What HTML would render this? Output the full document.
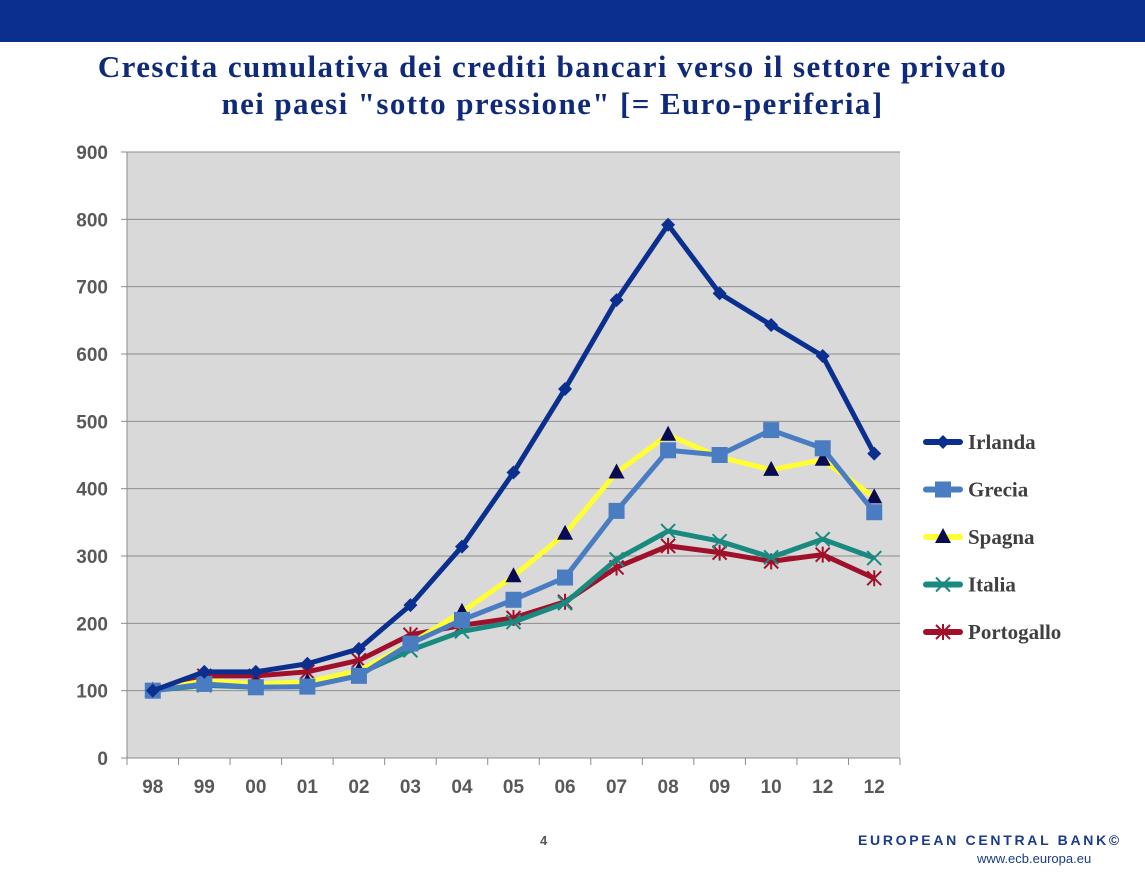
<!DOCTYPE html>
<html><head><meta charset="utf-8"><style>
body{margin:0;width:1145px;height:881px;background:#fff;overflow:hidden;font-family:"Liberation Sans",sans-serif;position:relative}
#bar{position:absolute;left:0;top:0;width:1145px;height:42px;background:#0b2f8f}
#title{position:absolute;left:0;top:48px;width:1105px;text-align:center;font-family:"Liberation Serif",serif;font-weight:bold;font-size:31px;letter-spacing:1.4px;line-height:37px;color:#102a7a}
#page{position:absolute;left:540px;top:833px;font-size:13px;font-weight:bold;color:#555}
#ecb{position:absolute;left:858px;top:832px;font-size:14px;font-weight:bold;letter-spacing:2.7px;color:#1a3a8a}
#url{position:absolute;left:977px;top:851px;font-size:13px;color:#1a3a8a}
</style></head><body>
<div id="bar"></div>
<div id="title">Crescita cumulativa dei crediti bancari verso il settore privato<br>nei paesi "sotto pressione" [= Euro-periferia]</div>
<svg id="chart" width="1145" height="881" style="position:absolute;left:0;top:0"></svg>
<div id="page">4</div>
<div id="ecb">EUROPEAN CENTRAL BANK©</div>
<div id="url">www.ecb.europa.eu</div>
<script>
const categories=["98","99","00","01","02","03","04","05","06","07","08","09","10","12","12"];
const yTicks=[0,100,200,300,400,500,600,700,800,900];
const irlanda=[100,128,128,140,162,227,314,424,548,680,792,690,643,597,452];
const grecia=[100,110,105,106,122,170,205,235,268,367,457,450,487,460,365];
const spagna=[100,115,110,113,130,170,217,270,333,424,480,447,428,443,387];
const italia=[100,108,105,108,125,160,188,202,230,295,337,322,298,325,297];
const portogallo=[100,122,122,128,145,183,197,208,232,283,315,305,292,302,267];
const seriesNames=["Irlanda","Grecia","Spagna","Italia","Portogallo"];
const NS="http://www.w3.org/2000/svg";
const svg=document.getElementById('chart');
const L=127,R=900,T=152,B=758,maxY=900;
const bw=(R-L)/categories.length;
const x=i=>L+bw*(i+0.5);
const y=v=>B-(v/maxY)*(B-T);
function el(t,a,p){const e=document.createElementNS(NS,t);for(const k in a)e.setAttribute(k,a[k]);(p||svg).appendChild(e);return e;}
const bg=el('rect',{x:L,y:T,width:R-L,height:B-T,fill:'#d9d9d9'});


yTicks.forEach(t=>{
 const g=el('line',{x1:L,x2:R,y1:y(t),y2:y(t),stroke:'#8c8c8c','stroke-width':1});
 
 
 const tx=el('text',{x:L-19,y:y(t)+7,'text-anchor':'end','font-size':19,'font-weight':'bold',fill:'#595959'});
 tx.textContent=t;
 
 
 el('line',{x1:L-6,x2:L,y1:y(t),y2:y(t),stroke:'#8c8c8c'});
});
el('line',{x1:L,x2:L,y1:T,y2:B,stroke:'#8c8c8c'});
categories.forEach((c,i)=>{
 el('line',{x1:L+bw*i,x2:L+bw*i,y1:B,y2:B+7,stroke:'#8c8c8c'});
 const tx=el('text',{x:x(i),y:B+35,'text-anchor':'middle','font-size':19,'font-weight':'bold',fill:'#595959'});
 tx.textContent=c;
 
 
});
el('line',{x1:R,x2:R,y1:B,y2:B+7,stroke:'#8c8c8c'});
function marker(type,cx,cy,g){
 if(type==='diamond')el('polygon',{points:`${cx},${cy-7} ${cx+7},${cy} ${cx},${cy+7} ${cx-7},${cy}`,fill:'#0b2f8f'},g);
 else if(type==='square')el('rect',{x:cx-8,y:cy-8,width:16,height:16,fill:'#4a7cc2'},g);
 else if(type==='tri')el('polygon',{points:`${cx},${cy-9} ${cx+8},${cy+6} ${cx-8},${cy+6}`,fill:'#0a0a50'},g);
 else if(type==='x'){el('path',{d:`M${cx-7} ${cy-7}L${cx+7} ${cy+7}M${cx+7} ${cy-7}L${cx-7} ${cy+7}`,stroke:'#1a8a80','stroke-width':2},g);}
 else {el('path',{d:`M${cx-7} ${cy-7}L${cx+7} ${cy+7}M${cx+7} ${cy-7}L${cx-7} ${cy+7}M${cx} ${cy-8}L${cx} ${cy+8}`,stroke:'#a0102a','stroke-width':2},g);}
}
const defs=[[portogallo,'#a0102a','star'],[italia,'#1a8a80','x'],[spagna,'#ffff33','tri'],[grecia,'#4a7cc2','square'],[irlanda,'#0b2f8f','diamond']];
const names=['series-portogallo','series-italia','series-spagna','series-grecia','series-irlanda'];
defs.forEach((d,k)=>{
 const g=el('g',{});
 
 
 el('polyline',{points:d[0].map((v,i)=>x(i)+','+y(v)).join(' '),fill:'none',stroke:d[1],'stroke-width':5,'stroke-linejoin':'round'},g);
 d[0].forEach((v,i)=>marker(d[2],x(i),y(v),g));
});
const legendOrder=[['#0b2f8f','diamond'],['#4a7cc2','square'],['#ffff33','tri'],['#1a8a80','x'],['#a0102a','star']];
seriesNames.forEach((n,k)=>{
 const ly=442+k*47.5;
 const g=el('g',{});
 
 
 el('line',{x1:926,x2:960,y1:ly,y2:ly,stroke:legendOrder[k][0],'stroke-width':6,'stroke-linecap':'round'},g);
 marker(legendOrder[k][1],943,ly,g);
 const t=el('text',{x:968,y:ly+7,'font-size':21,'font-weight':'bold','font-family':'Liberation Serif, serif',fill:'#404040'},g);
 t.textContent=n;
});
</script>
</body></html>
